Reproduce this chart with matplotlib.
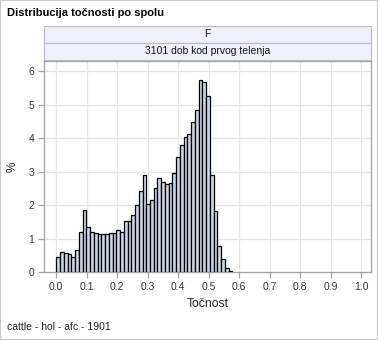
import numpy as np
import matplotlib
matplotlib.use("Agg")
import matplotlib.pyplot as plt
from matplotlib.patches import Rectangle

plt.rcParams['font.family'] = ['Liberation Sans', 'DejaVu Sans']

# histogram data (percent per bin)
bin_start = 0.0
bin_width = 0.0123
percent = [0.46, 0.61, 0.59, 0.55, 0.46, 0.65, 1.19, 1.85, 1.34, 1.19,
           1.17, 1.13, 1.14, 1.15, 1.16, 1.17, 1.27, 1.21, 1.52, 1.54,
           1.72, 2.02, 2.41, 2.90, 2.05, 2.17, 2.50, 2.80, 2.68, 2.64,
           2.65, 2.95, 3.43, 3.81, 4.04, 4.13, 4.49, 4.85, 5.74, 5.68,
           5.26, 2.89, 1.83, 0.79, 0.39, 0.14, 0.05]
x_ticks = [0.0, 0.1, 0.2, 0.3, 0.4, 0.5, 0.6, 0.7, 0.8, 0.9, 1.0]
y_ticks = [0, 1, 2, 3, 4, 5, 6]

W, H = 378, 340
fig = plt.figure(figsize=(W / 100, H / 100), dpi=100)

def fx(px):
    return px / W

def fy(py):
    return 1 - py / H

# plot frame in pixel coords
L, R, T, B = 44.3, 371, 61, 272.3
ax = fig.add_axes([fx(L), fy(B), fx(R) - fx(L), fy(T) - fy(B)])

edges = bin_start + np.arange(len(percent)) * bin_width
ax.bar(edges, percent, width=bin_width, align='edge', color='#cbd5e6',
       edgecolor='black', linewidth=0.9, zorder=3)

ax.set_xlim(-0.0394, 1.0328)
ax.set_ylim(0, 6.30)
ax.set_xticks(x_ticks)
ax.set_xticklabels([f"{t:.1f}" for t in x_ticks])
ax.set_yticks(y_ticks)
ax.grid(True, color='#e4e4e4', linewidth=0.9, zorder=0)
for s in ax.spines.values():
    s.set_color('#a0a0a4')
    s.set_linewidth(0.9)
ax.tick_params(colors='#a0a0a4', labelcolor='#333333', labelsize=7.5,
               length=4, width=0.9, pad=3)
ax.set_xlabel("Točnost", fontsize=8.8, color='#222222', labelpad=4)
ax.set_ylabel("%", fontsize=8.5, color='#222222', labelpad=7)

# strip headers
strips = [("F", 25.5, 42.5), ("3101 dob kod prvog telenja", 42.5, 60)]
for label, top, bot in strips:
    sax = fig.add_axes([fx(L), fy(bot), fx(R) - fx(L), fy(top) - fy(bot)])
    sax.set_facecolor('#eef0fa')
    sax.set_xticks([])
    sax.set_yticks([])
    for s in sax.spines.values():
        s.set_color('#b8b8c0')
        s.set_linewidth(0.8)
    sax.text(0.5, 0.5, label, ha='center', va='center', fontsize=7.5,
             color='#111111', transform=sax.transAxes)

fig.text(fx(7), fy(13), "Distribucija točnosti po spolu", fontsize=8,
         fontweight='bold', ha='left', va='center')
fig.text(fx(7), fy(327), "cattle - hol - afc - 1901", fontsize=7.5,
         ha='left', va='center', color='#222222')

fig.patches.append(Rectangle((0, 0), 1, 1, transform=fig.transFigure,
                             fill=False, edgecolor='#c8c8c8', linewidth=1.5))

fig.savefig("out.png", dpi=100)
